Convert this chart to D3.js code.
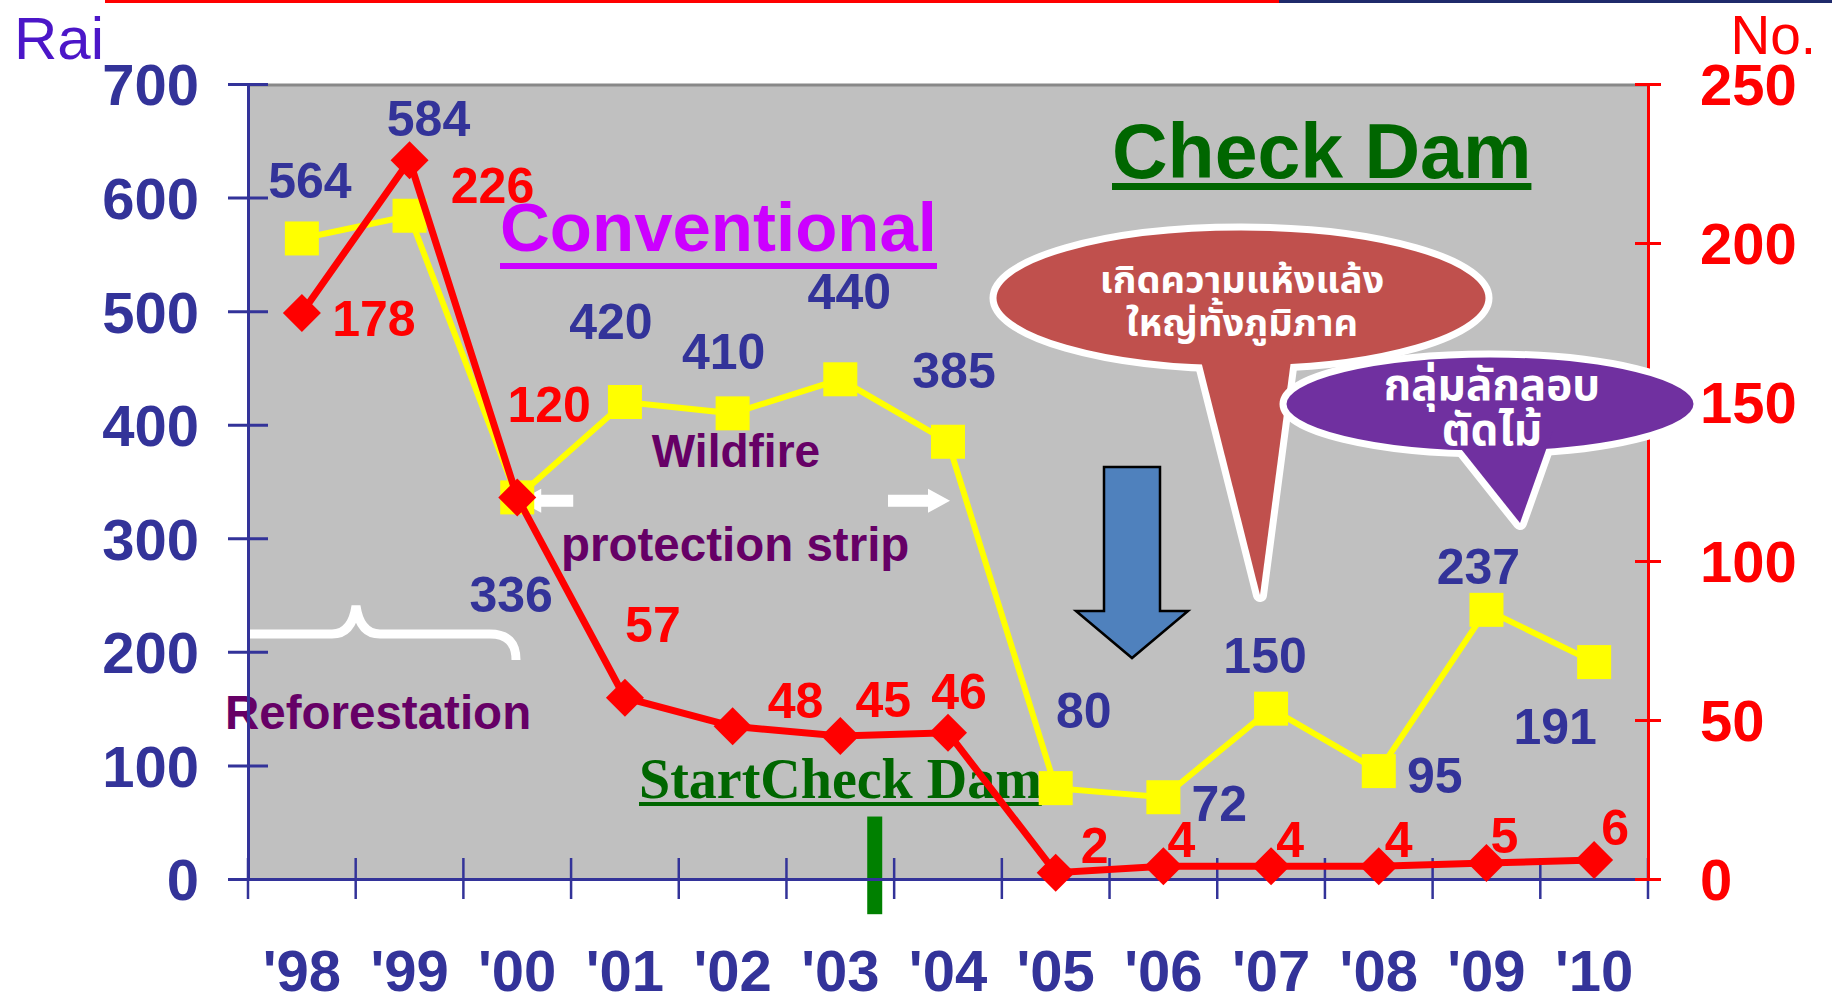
<!DOCTYPE html>
<html><head><meta charset="utf-8">
<script src="https://cdn.jsdelivr.net/npm/d3@7"></script>
<style>
body{margin:0;background:#fff;}
svg{display:block;}
</style></head><body>
<svg id="c" width="1832" height="1000"></svg>
<script>
// ---------- data ----------
const years = ["'98","'99","'00","'01","'02","'03","'04","'05","'06","'07","'08","'09","'10"];
const raiValues = [564,584,336,420,410,440,385,80,72,150,95,237,191];
const damCounts = [178,226,120,57,48,45,46,2,4,4,4,5,6];
const leftTicks = [0,100,200,300,400,500,600,700];
const rightTicks = [0,50,100,150,200,250];

// ---------- label layout (offsets from points, px) ----------
const raiLabelOffsets = [[8,-58],[19,-98],[-6,97],[-14,-81],[-9,-62],[9,-88],[6,-72],[28,-78],[56,6],[-6,-54],[56,4],[-8,-44],[-39,64]];
const damLabelOffsets = [[72,5],[83,25],[32,-93],[28,-74],[63,-26],[43,-37],[11,-42],[39,-28],[18,-27],[19,-27],[20,-27],[18,-28],[21,-33]];

const SANS = '"Liberation Sans", Arial, sans-serif';
const SERIF = '"Liberation Serif", "Times New Roman", serif';
const THAI = '"Noto Sans Thai", "Noto Sans Thai UI", "Loma", "Garuda", "Tahoma", "Noto Sans", sans-serif';
const NAVY = "#333399";

const svg = d3.select("#c");
const L = 248, R = 1648, T = 84, B = 879;
const x = d3.scaleBand().domain(years).range([L, R]).padding(0);
const yL = d3.scaleLinear().domain([0, 700]).range([B, T]);
const yR = d3.scaleLinear().domain([0, 250]).range([B, T]);
const bw = x.bandwidth();
const cx = d => x(d) + bw / 2;

// top strip
svg.append("rect").attr("x", 105).attr("y", 0).attr("width", 1174).attr("height", 3).attr("fill", "#ff0000");
svg.append("rect").attr("x", 1279).attr("y", 0).attr("width", 553).attr("height", 3).attr("fill", "#1f2a6b");

// plot background
svg.append("rect").attr("x", L).attr("y", T).attr("width", R - L).attr("height", B - T).attr("fill", "#c0c0c0");
svg.append("line").attr("x1", L).attr("x2", R).attr("y1", T + 1).attr("y2", T + 1).attr("stroke", "#888").attr("stroke-width", 3);

// ---------- annotations under the data ----------
// brace for reforestation
svg.append("path")
  .attr("d", "M248,634 H332 Q352,634 356,606 Q360,634 380,634 H490 Q516,634 516,660")
  .attr("fill", "none").attr("stroke", "#fff").attr("stroke-width", 9);

// white arrows marking the wildfire protection strip period
(function () {
  const ya = yL(333);
  const t1 = cx("'00") + 2;
  svg.append("polygon").attr("fill", "#fff")
    .attr("points", [[t1, ya], [t1 + 22, ya - 12], [t1 + 22, ya - 6], [t1 + 54, ya - 6], [t1 + 54, ya + 6], [t1 + 22, ya + 6], [t1 + 22, ya + 12]].join(" "));
  const t2 = cx("'04") + 2;
  svg.append("polygon").attr("fill", "#fff")
    .attr("points", [[t2, ya], [t2 - 22, ya - 12], [t2 - 22, ya - 6], [t2 - 62, ya - 6], [t2 - 62, ya + 6], [t2 - 22, ya + 6], [t2 - 22, ya + 12]].join(" "));
})();

// blue down arrow
svg.append("polygon")
  .attr("points", "1104,467 1160,467 1160,611 1188,611 1132,658 1076,611 1104,611")
  .attr("fill", "#4f81bd").attr("stroke", "#000").attr("stroke-width", 2.5);

// texts
function label(txt, xx, yy, size, fill, opts = {}) {
  return svg.append("text").attr("x", xx).attr("y", yy).text(txt)
    .attr("font-family", opts.family || SANS).attr("font-size", size)
    .attr("font-weight", opts.weight || "bold").attr("fill", fill)
    .attr("text-anchor", opts.anchor || "start");
}
function underline(t, dy, th, fill) {
  const bb = t.node().getBBox();
  svg.append("rect").attr("x", bb.x).attr("y", +t.attr("y") + dy).attr("width", bb.width).attr("height", th).attr("fill", fill);
}
const tConv = label("Conventional", 500, 251, 69, "#cc00ff");
underline(tConv, 12, 6, "#cc00ff");
const tCheck = label("Check Dam", 1112, 178, 77, "#006600");
underline(tCheck, 5, 7, "#006600");
label("Wildfire", 736, 467, 46, "#660066", { anchor: "middle" });
label("protection strip", 561, 561, 47.5, "#660066");
label("Reforestation", 225, 729, 47.5, "#660066");
const tStart = label("StartCheck Dam", 639, 798, 56, "#006600", { family: SERIF });
underline(tStart, 4, 4, "#006600");

// green start bar
svg.append("rect").attr("x", x("'03") + 0.75 * bw).attr("y", yL(55)).attr("width", 15).attr("height", yL(-31) - yL(55)).attr("fill", "#008000");

// ---------- axes ----------
const gL = svg.append("g").attr("transform", `translate(${L},0)`)
  .call(d3.axisLeft(yL).tickValues(leftTicks).tickSize(20).tickSizeOuter(0).tickPadding(29));
gL.select(".domain").attr("stroke", NAVY).attr("stroke-width", 3);
gL.selectAll(".tick line").attr("x1", 20).attr("stroke", NAVY).attr("stroke-width", 3);
gL.selectAll(".tick text").attr("fill", NAVY).attr("font-size", 58).attr("font-weight", "bold")
  .attr("font-family", SANS).attr("dy", "0.36em");

const gB = svg.append("g").attr("transform", `translate(0,${B})`)
  .call(d3.axisBottom(x).tickSize(0).tickSizeOuter(0).tickPadding(71));
gB.select(".domain").attr("stroke", NAVY).attr("stroke-width", 3);
gB.selectAll(".tick text").attr("fill", NAVY).attr("font-size", 58).attr("font-weight", "bold")
  .attr("font-family", SANS).attr("dy", "0.71em");
gB.selectAll("line.bnd").data(years.map(d => x(d)).concat([R])).join("line").attr("class", "bnd")
  .attr("x1", d => d).attr("x2", d => d).attr("y1", -21).attr("y2", 20)
  .attr("stroke", NAVY).attr("stroke-width", 2.5);

const gR = svg.append("g").attr("transform", `translate(${R},0)`)
  .call(d3.axisRight(yR).tickValues(rightTicks).tickSize(13).tickSizeOuter(0).tickPadding(39));
gR.select(".domain").attr("stroke", "#ff0000").attr("stroke-width", 3);
gR.selectAll(".tick line").attr("x1", -13).attr("stroke", "#ff0000").attr("stroke-width", 3);
gR.selectAll(".tick text").attr("fill", "#ff0000").attr("font-size", 58).attr("font-weight", "bold")
  .attr("font-family", SANS).attr("dy", "0.36em");

// axis titles
label("Rai", 14, 59, 60, "#4b16c8", { weight: "normal" });
label("No.", 1816, 54, 55, "#ff0000", { weight: "normal", anchor: "end" });

// ---------- data series ----------
const rai = years.map((d, i) => ({ d, v: raiValues[i], o: raiLabelOffsets[i] }));
const dam = years.map((d, i) => ({ d, v: damCounts[i], o: damLabelOffsets[i] }));

svg.append("path").datum(rai)
  .attr("d", d3.line().x(p => cx(p.d)).y(p => yL(p.v)))
  .attr("fill", "none").attr("stroke", "#ffff00").attr("stroke-width", 6).attr("stroke-linejoin", "miter");
svg.selectAll("rect.sq").data(rai).join("rect").attr("class", "sq")
  .attr("x", p => cx(p.d) - 17).attr("y", p => yL(p.v) - 17).attr("width", 34).attr("height", 34)
  .attr("fill", "#ffff00");

svg.append("path").datum(dam)
  .attr("d", d3.line().x(p => cx(p.d)).y(p => yR(p.v)))
  .attr("fill", "none").attr("stroke", "#ff0000").attr("stroke-width", 7).attr("stroke-linejoin", "miter");
svg.selectAll("path.dia").data(dam).join("path").attr("class", "dia")
  .attr("transform", p => `translate(${cx(p.d)},${yR(p.v)})`)
  .attr("d", "M0,-19L19,0L0,19L-19,0Z").attr("fill", "#ff0000");

// value labels
svg.selectAll("text.rl").data(rai).join("text").attr("class", "rl")
  .attr("x", p => cx(p.d) + p.o[0]).attr("y", p => yL(p.v) + p.o[1]).attr("dy", "0.36em")
  .attr("text-anchor", "middle").attr("font-family", SANS).attr("font-weight", "bold")
  .attr("font-size", 50).attr("fill", NAVY).text(p => p.v);
svg.selectAll("text.dl").data(dam).join("text").attr("class", "dl")
  .attr("x", p => cx(p.d) + p.o[0]).attr("y", p => yR(p.v) + p.o[1]).attr("dy", "0.36em")
  .attr("text-anchor", "middle").attr("font-family", SANS).attr("font-weight", "bold")
  .attr("font-size", 50).attr("fill", "#ff0000").text(p => p.v);

// ---------- speech bubbles ----------
function bubble(ex, ey, rx, ry, tail, fill, lines, fs, lineYs, tx) {
  const g = svg.append("g");
  const pts = tail.join(" ");
  g.append("polygon").attr("points", pts).attr("fill", fill).attr("stroke", "#fff").attr("stroke-width", 14).attr("stroke-linejoin", "round");
  g.append("ellipse").attr("cx", ex).attr("cy", ey).attr("rx", rx).attr("ry", ry).attr("fill", fill).attr("stroke", "#fff").attr("stroke-width", 7);
  g.append("polygon").attr("points", pts).attr("fill", fill);
  lines.forEach((t, i) => {
    g.append("text").attr("x", tx).attr("y", lineYs[i]).attr("text-anchor", "middle")
      .attr("font-family", THAI).attr("font-weight", "bold").attr("font-size", fs).attr("fill", "#fff").text(t);
  });
}
bubble(1241, 298, 248, 71, [[1197, 345], [1260, 595], [1293, 345]], "#c0504d",
  ["เกิดความแห้งแล้ง", "ใหญ่ทั้งภูมิภาค"], 38, [293, 336], 1242);
bubble(1490, 404, 207, 50, [[1446, 430], [1520, 523], [1553, 430]], "#7030a0",
  ["กลุ่มลักลอบ", "ตัดไม้"], 44, [400, 445], 1492);
</script>
</body></html>
